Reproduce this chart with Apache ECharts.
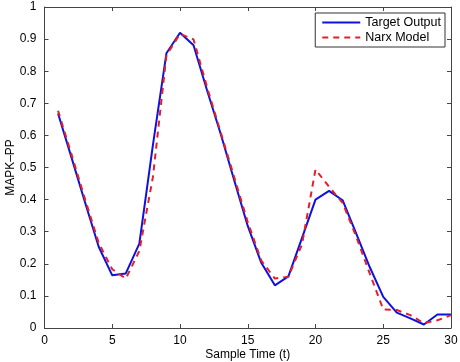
<!DOCTYPE html>
<html>
<head>
<meta charset="utf-8">
<script src="https://cdn.jsdelivr.net/npm/echarts@6/dist/echarts.min.js"></script>
<style>
  html, body { margin: 0; padding: 0; background: #fff; }
  #main { width: 460px; height: 362px; }
</style>
</head>
<body>
<div id="main"></div>
<script>
// sample index 1..30
var sampleTime = [1,2,3,4,5,6,7,8,9,10,11,12,13,14,15,16,17,18,19,20,21,22,23,24,25,26,27,28,29,30];
var targetOutput = [0.668,0.53,0.39,0.253,0.164,0.170,0.263,0.57,0.856,0.92,0.881,0.74,0.605,0.46,0.318,0.203,0.133,0.161,0.28,0.40,0.427,0.398,0.295,0.19,0.097,0.048,0.03,0.011,0.042,0.042];
var narxModel = [0.677,0.54,0.40,0.265,0.183,0.154,0.24,0.47,0.85,0.916,0.899,0.75,0.61,0.47,0.33,0.21,0.154,0.16,0.26,0.494,0.44,0.39,0.285,0.17,0.058,0.056,0.04,0.015,0.024,0.04];

var xTicks = [0,5,10,15,20,25,30];
var yTicks = [0,0.1,0.2,0.3,0.4,0.5,0.6,0.7,0.8,0.9,1];

function pairs(xs, ys) {
    return xs.map(function (x, i) { return [x, ys[i]]; });
}

var myChart = echarts.init(document.getElementById('main'));
var fontFam = 'Liberation Sans, Arial, sans-serif';
var axisCol = '#444';

var option = {
    animation: false,
    textStyle: { fontFamily: fontFam },
    grid: { left: 44.5, top: 7, right: 9, bottom: 34, containLabel: false, outerBoundsMode: 'none' },
    legend: {
        orient: 'vertical',
        right: 15,
        top: 13,
        padding: [3, 4, 3, 6],
        itemGap: 2,
        itemWidth: 38,
        itemHeight: 12,
        borderColor: '#333',
        borderWidth: 1,
        borderRadius: 0,
        backgroundColor: '#fff',
        itemStyle: { color: 'rgba(0,0,0,0)', borderWidth: 0, opacity: 0 },
        textStyle: { fontSize: 12.5, color: '#000', fontFamily: fontFam },
        data: ['Target Output', 'Narx Model']
    },
    xAxis: [{
        type: 'value',
        min: 0, max: 30, interval: 5,
        name: 'Sample Time (t)',
        nameLocation: 'middle',
        nameGap: 21,
        nameMoveOverlap: false,
        nameTextStyle: { fontSize: 12, color: '#000', fontFamily: fontFam },
        axisLine: { lineStyle: { color: axisCol, width: 1 } },
        axisTick: { inside: true, length: 4, lineStyle: { color: axisCol } },
        axisLabel: { fontSize: 12, color: '#000', margin: 7, fontFamily: fontFam,
            formatter: function (v) { return xTicks.indexOf(v) >= 0 ? String(v) : ''; } },
        splitLine: { show: false }
    }, {
        type: 'value', position: 'top',
        min: 0, max: 30, interval: 5,
        axisLine: { show: true, onZero: false, lineStyle: { color: axisCol, width: 1 } },
        axisTick: { show: true, inside: true, length: 4, lineStyle: { color: axisCol } },
        axisLabel: { show: false },
        splitLine: { show: false }
    }],
    yAxis: [{
        type: 'value',
        min: 0, max: 1, interval: 0.1,
        name: 'MAPK\u2013PP',
        nameLocation: 'middle',
        nameGap: 28,
        nameMoveOverlap: false,
        nameTextStyle: { fontSize: 12, color: '#000', fontFamily: fontFam },
        axisLine: { show: true, lineStyle: { color: axisCol, width: 1 } },
        axisTick: { show: true, inside: true, length: 4, lineStyle: { color: axisCol } },
        axisLabel: { fontSize: 12, color: '#000', margin: 8, fontFamily: fontFam,
            formatter: function (v) {
                var r = Math.round(v * 10) / 10;
                return (r === 0 || r === 1) ? String(r) : r.toFixed(1);
            } },
        splitLine: { show: false }
    }, {
        type: 'value', position: 'right',
        min: 0, max: 1, interval: 0.1,
        axisLine: { show: true, onZero: false, lineStyle: { color: axisCol, width: 1 } },
        axisTick: { show: true, inside: true, length: 4, lineStyle: { color: axisCol } },
        axisLabel: { show: false },
        splitLine: { show: false }
    }],
    series: [
        {
            name: 'Target Output',
            type: 'line',
            data: pairs(sampleTime, targetOutput),
            symbol: 'none',
            lineStyle: { color: '#1010e0', width: 2 },
            itemStyle: { color: '#1010e0' },
            z: 3
        },
        {
            name: 'Narx Model',
            type: 'line',
            data: pairs(sampleTime, narxModel),
            symbol: 'none',
            lineStyle: { color: '#e0202a', width: 2, type: [6, 5] },
            itemStyle: { color: '#e0202a' },
            z: 4
        }
    ]
};

myChart.setOption(option);
</script>
</body>
</html>
